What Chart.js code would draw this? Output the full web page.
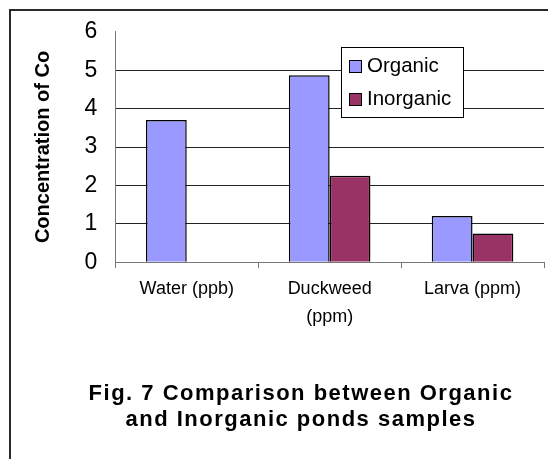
<!DOCTYPE html>
<html>
<head>
<meta charset="utf-8">
<script src="https://cdn.jsdelivr.net/npm/chart.js@4/dist/chart.umd.min.js"></script>
<style>
  html, body { margin: 0; padding: 0; background: #fff; overflow: hidden; }
  #frame { position: absolute; left: 9px; top: 9px; width: 640px; height: 520px; border: 2px solid #2a2a2a; }
  #grafico { position: absolute; left: 0; top: 0; }
</style>
</head>
<body>
<div id="frame"></div>
<canvas id="grafico" width="548" height="459"></canvas>
<script>
var categorias = [["Water (ppb)"], ["Duckweed", "(ppm)"], ["Larva (ppm)"]];
var organico = [3.7, 4.87, 1.2];
var inorganico = [null, 2.25, 0.75];
var ticksY = [0, 1, 2, 3, 4, 5, 6];
var titulo = ["Fig. 7 Comparison between Organic", "and Inorganic ponds samples"];
var tituloY = "Concentration of Co";

var fonte = "Arial, 'Liberation Sans', sans-serif";

// legend drawn inside the plot, like the original figure
var legendaInterna = {
  id: "legendaInterna",
  afterDraw: function (chart) {
    var ctx = chart.ctx;
    ctx.save();
    ctx.fillStyle = "#fff";
    ctx.fillRect(341, 47, 122, 70);
    ctx.strokeStyle = "#000";
    ctx.lineWidth = 1;
    ctx.strokeRect(341.5, 47.5, 122, 70);
    ctx.font = "20.5px " + fonte;
    ctx.textBaseline = "alphabetic";
    chart.data.datasets.forEach(function (ds, i) {
      var y = 60 + i * 33;
      ctx.fillStyle = ds.backgroundColor;
      ctx.fillRect(349, y, 13, 13);
      ctx.strokeRect(349.5, y + 0.5, 12, 12);
      ctx.fillStyle = "#000";
      ctx.fillText(ds.label, 367, y + 12);
    });
    ctx.restore();
  },
};

// figure caption under the chart (centered on the page, spaced letters)
var legendaFigura = {
  id: "legendaFigura",
  afterDraw: function (chart) {
    var ctx = chart.ctx;
    ctx.save();
    ctx.font = "bold 22px " + fonte;
    ctx.letterSpacing = "1.5px";
    ctx.fillStyle = "#000";
    ctx.textAlign = "center";
    ctx.textBaseline = "alphabetic";
    titulo.forEach(function (linha, i) {
      ctx.fillText(linha, 301, 400 + i * 26);
    });
    ctx.restore();
  },
};

var ctx1 = document.getElementById("grafico").getContext("2d");
var grafico = new Chart(ctx1, {
  type: "bar",
  data: {
    labels: categorias,
    datasets: [
      {
        label: "Organic",
        data: organico,
        backgroundColor: "#9999FF",
        borderColor: "#000",
        borderWidth: 1.5,
        categoryPercentage: 0.571,
        barPercentage: 1,
      },
      {
        label: "Inorganic",
        data: inorganico,
        backgroundColor: "#993366",
        borderColor: "#000",
        borderWidth: 1.5,
        categoryPercentage: 0.571,
        barPercentage: 1,
      },
    ],
  },
  options: {
    responsive: false,
    animation: false,
    layout: { padding: { left: 10, right: 4, top: 31, bottom: 121 } },
    plugins: {
      legend: { display: false },
      tooltip: { enabled: false },
      title: { display: false },
    },
    scales: {
      x: {
        grid: {
          offset: true,
          drawOnChartArea: false,
          drawTicks: true,
          tickLength: 6,
          color: "#777",
        },
        border: { color: "#777", width: 1 },
        ticks: {
          color: "#000",
          padding: 7,
          font: { family: fonte, size: 18, lineHeight: 1.55 },
        },
      },
      y: {
        min: 0,
        max: 6,
        afterBuildTicks: function (axis) {
          axis.ticks = ticksY.map(function (v) { return { value: v }; });
        },
        grid: {
          drawTicks: false,
          color: function (c) {
            return c.tick && c.tick.value === 6 ? "rgba(0,0,0,0)" : "#222";
          },
        },
        border: { color: "#777", width: 1 },
        ticks: {
          color: "#000",
          padding: 18,
          font: { family: fonte, size: 23 },
        },
        title: {
          display: true,
          text: tituloY,
          color: "#000",
          font: { family: fonte, size: 20, weight: "bold", lineHeight: 1.2 },
          padding: { top: 21, bottom: 11.5 },
        },
      },
    },
  },
  plugins: [legendaInterna, legendaFigura],
});
</script>
</body>
</html>
